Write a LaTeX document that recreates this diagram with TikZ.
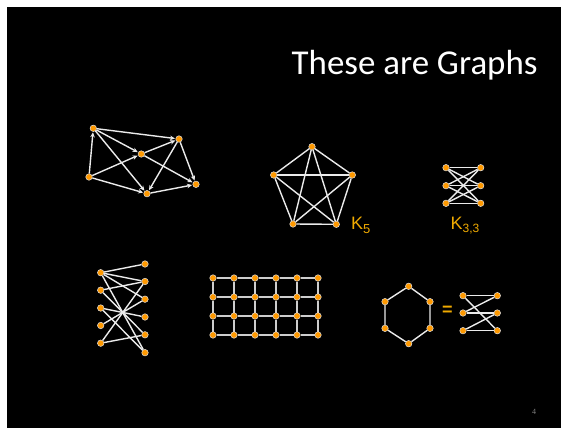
\documentclass[tikz,border=0pt]{standalone}
\usepackage{fontspec}
\setmainfont{Carlito}
\newfontfamily\arialfont{Liberation Sans}
\newfontfamily\numfont{Liberation Serif}
\usetikzlibrary{arrows.meta}
\definecolor{vorange}{RGB}{255,153,0}
\definecolor{vring}{RGB}{225,225,225}
\definecolor{elabel}{RGB}{240,170,0}
\definecolor{ecol}{RGB}{235,235,235}
\definecolor{gcol}{RGB}{205,205,205}
\pgfdeclarelayer{bg}
\pgfdeclarelayer{edges}
\pgfsetlayers{bg,edges,main}
\tikzset{
  vtx/.style={circle,fill=vorange,draw=vring,line width=0.5pt,inner sep=0pt,minimum size=6.5pt},
  edge/.style={draw=ecol,line width=1.4pt},
  gedge/.style={draw=gcol,line width=1.9pt},
  arc/.style={edge,-{Stealth[length=5pt,width=4.5pt]},shorten >=0.5pt},
  klabel/.style={text=elabel,inner sep=0pt,font=\arialfont\fontsize{18}{18}\selectfont}
}
\begin{document}
\begin{tikzpicture}[x=1pt,y=-1pt]
\useasboundingbox (0,0) rectangle (568,428);
\begin{pgfonlayer}{bg}
\fill[white] (0,0) rectangle (568,428);
\fill[black] (7,7) rectangle (561,428);
\end{pgfonlayer}

% title
\node[anchor=base west,inner sep=0pt,text=white,font=\fontsize{34.9}{35}\selectfont] (title) at (291.5,75) {These are Graphs};
\node[anchor=base,inner sep=0pt,text=gray,font=\numfont\fontsize{8}{8}\selectfont] (pnum) at (534,414) {4};

% directed graph
\node[vtx] (A) at (93.3,128.3) {};
\node[vtx] (B) at (89,177) {};
\node[vtx] (C) at (141.3,154) {};
\node[vtx] (D) at (179,139) {};
\node[vtx] (E) at (147,193.7) {};
\node[vtx] (F) at (196,184.3) {};
\begin{pgfonlayer}{edges}
\draw[arc] (B) -- (A);
\draw[arc] (A) -- (D);
\draw[arc] (A) -- (C);
\draw[arc] (A) -- (E);
\draw[arc] (B) -- (C);
\draw[arc] (C) -- (D);
\draw[arc] (B) -- (E);
\draw[arc] (C) -- (F);
\draw[arc] (D) -- (E);
\draw[arc] (D) -- (F);
\draw[arc] (E) -- (F);
\end{pgfonlayer}

% K5
\node[vtx] (k1) at (312,146.7) {};
\node[vtx] (k2) at (273.7,175) {};
\node[vtx] (k3) at (352.3,175) {};
\node[vtx] (k4) at (293,224) {};
\node[vtx] (k5) at (336.3,224.3) {};
\begin{pgfonlayer}{edges}
\foreach \u/\v in {k1/k2,k1/k3,k1/k4,k1/k5,k2/k3,k2/k4,k2/k5,k3/k4,k3/k5,k4/k5}
  \draw[edge] (\u) -- (\v);
\end{pgfonlayer}
\node[klabel,anchor=base west] (k5lab) at (351,229.3) {K\raisebox{-4.5pt}{\fontsize{13}{13}\selectfont 5}};

% K3,3
\foreach \i/\y in {1/167.7,2/185.7,3/203.3}{
  \node[vtx] (a\i) at (446,\y) {};
  \node[vtx] (b\i) at (480.7,\y) {};
}
\begin{pgfonlayer}{edges}
\foreach \i in {1,2,3}
  \foreach \j in {1,2,3}
    \draw[edge] (a\i) -- (b\j);
\end{pgfonlayer}
\node[klabel,anchor=base west] (k33lab) at (450.5,229.3) {K\raisebox{-3.5pt}{\fontsize{12}{12}\selectfont 3,3}};

% left bipartite graph
\foreach \i/\y in {1/272.7,2/290.2,3/308,4/325.5,5/343.2}
  \node[vtx] (p\i) at (100.7,\y) {};
\foreach \i/\y in {1/264,2/281.5,3/299.2,4/317,5/334.8,6/352.7}
  \node[vtx] (q\i) at (145,\y) {};
\begin{pgfonlayer}{edges}
\foreach \u/\v in {p1/q1,p1/q2,p1/q3,p1/q6,p2/q2,p2/q5,p3/q4,p3/q6,p4/q3,p5/q2,p5/q5}
  \draw[edge] (\u) -- (\v);
\end{pgfonlayer}

% grid
\foreach \c/\x in {1/213,2/234,3/255,4/276,5/297,6/318}
  \foreach \r/\y in {1/278,2/297,3/316,4/335}
    \node[vtx] (g\c-\r) at (\x,\y) {};
\begin{pgfonlayer}{edges}
\foreach \c in {1,...,6}
  \foreach \r [count=\rn from 2] in {1,2,3}
    \draw[gedge] (g\c-\r) -- (g\c-\rn);
\foreach \r in {1,...,4}
  \foreach \c [count=\cn from 2] in {1,...,5}
    \draw[gedge] (g\c-\r) -- (g\cn-\r);
\end{pgfonlayer}

% hexagon
\node[vtx] (h1) at (408.7,286.3) {};
\node[vtx] (h2) at (430,301.7) {};
\node[vtx] (h3) at (430,328.3) {};
\node[vtx] (h4) at (408.7,343.7) {};
\node[vtx] (h5) at (385,328.3) {};
\node[vtx] (h6) at (385,301.7) {};
\begin{pgfonlayer}{edges}
\draw[edge] (h1) -- (h2) -- (h3) -- (h4) -- (h5) -- (h6) -- (h1);
\end{pgfonlayer}
\node[klabel,font=\arialfont\bfseries\fontsize{18}{18}\selectfont] (eq) at (447.3,310.7) {=};

% right bipartite (6-cycle)
\foreach \i/\y in {1/295.7,2/313,3/330.7}{
  \node[vtx] (r\i) at (463,\y) {};
  \node[vtx] (s\i) at (497.3,\y) {};
}
\begin{pgfonlayer}{edges}
\foreach \u/\v in {r1/s1,r1/s3,r2/s1,r2/s2,r3/s2,r3/s3}
  \draw[edge] (\u) -- (\v);
\end{pgfonlayer}
\end{tikzpicture}
\end{document}
